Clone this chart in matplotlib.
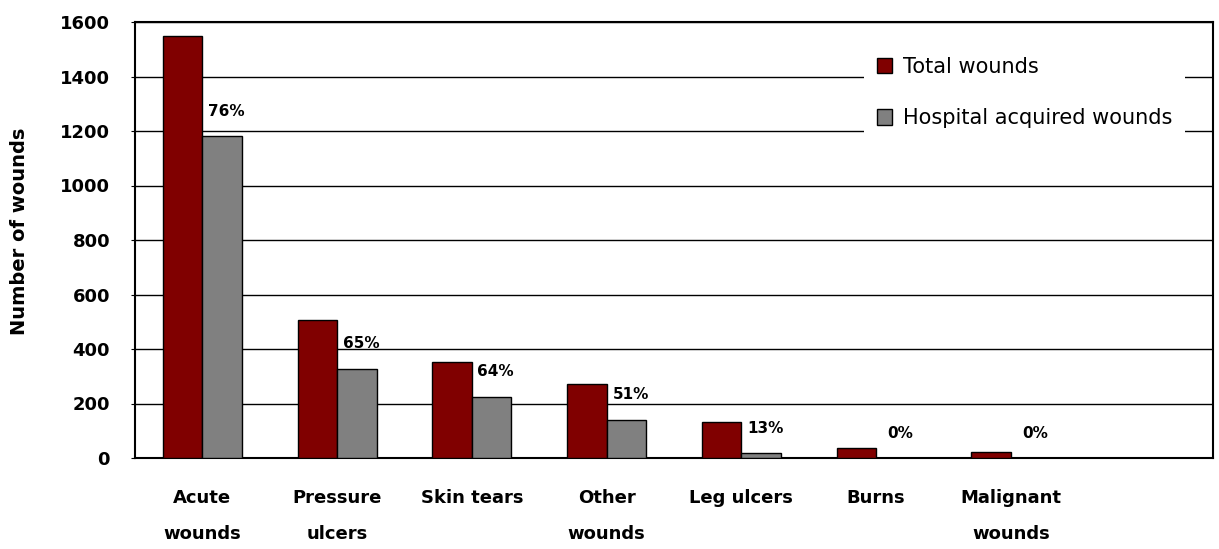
import numpy as np
import matplotlib.pyplot as plt

categories = ["Acute\nwounds", "Pressure\nulcers", "Skin tears", "Other\nwounds",
              "Leg ulcers", "Burns", "Malignant\nwounds", ""]
total_wounds = [1550, 505, 352, 270, 131, 36, 22]
hospital_wounds = [1180, 328, 225, 140, 18, 0, 0]
pct_labels = ["76%", "65%", "64%", "51%", "13%", "0%", "0%"]

fig = plt.figure(figsize=(12.19, 5.49), dpi=100)
ax = fig.add_axes([135 / 1219, 1 - 458 / 549, 1078 / 1219, 436 / 549])

x = np.arange(len(total_wounds))
w = 0.293

ax.bar(x - w / 2, total_wounds, w, color="#800000", edgecolor="black",
       linewidth=1, label="Total wounds", zorder=3)
ax.bar(x + w / 2, hospital_wounds, w, color="#808080", edgecolor="black",
       linewidth=1, label="Hospital acquired wounds", zorder=3)

# percentage labels above the hospital bars
for xi, h, lab in zip(x, hospital_wounds, pct_labels):
    ax.annotate(lab, (xi + w / 2, h), xytext=(3, 18), textcoords="offset points",
                ha="center", va="center", fontsize=11, fontweight="bold",
                zorder=5)

ax.set_xlim(-0.5, len(categories) - 0.5)
ax.set_ylim(0, 1600)
ax.set_yticks(range(0, 1601, 200))
ax.set_xticks(range(len(categories)))
ax.set_xticklabels(categories, fontsize=13, fontweight="bold", linespacing=2.35)
ax.tick_params(axis="x", length=0, pad=22)
ax.tick_params(axis="y", length=3, labelsize=13, pad=15)
for t in ax.get_yticklabels():
    t.set_fontweight("bold")
ax.set_ylabel("Number of wounds", fontsize=14, fontweight="bold")
ax.yaxis.set_label_coords(-0.098, 0.52)

ax.grid(axis="y", color="black", linewidth=1, zorder=0)
for s in ax.spines.values():
    s.set_linewidth(1.5)
    s.set_color("black")

leg = ax.legend(loc="upper right", bbox_to_anchor=(1195 / 1219, 1 - 34 / 549),
                bbox_transform=fig.transFigure, fontsize=15, frameon=True,
                fancybox=False, framealpha=1, edgecolor="white",
                handlelength=0.75, handleheight=0.75, handletextpad=0.5,
                labelspacing=1.5, borderpad=0.6)
leg.get_frame().set_linewidth(0)
leg.set_zorder(4)

fig.savefig("out.png", dpi=100)
